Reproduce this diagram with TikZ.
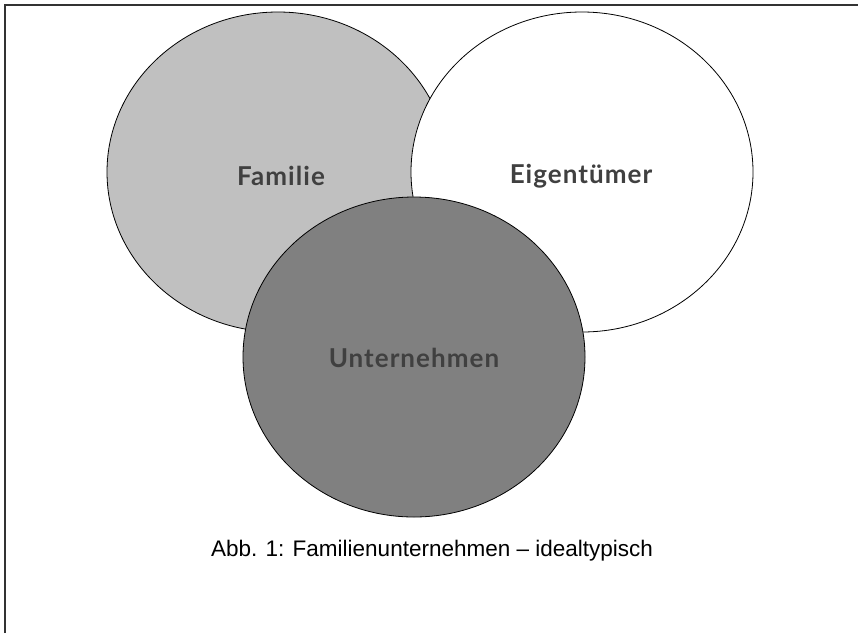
\documentclass[tikz,border=0pt]{standalone}
\usepackage{fontspec}
\setmainfont{Liberation Sans}
\newfontfamily\labelfont[LetterSpace=4]{Lato}
\usetikzlibrary{shapes.geometric}
\definecolor{famgray}{HTML}{C0C0C0}
\definecolor{untgray}{HTML}{808080}
\definecolor{textgray}{HTML}{404040}
\tikzstyle{setnode} = [draw=black, line width=0.8pt, ellipse, minimum width=342pt, minimum height=320pt, inner sep=0pt]
\tikzstyle{setlabel} = [text=textgray, font=\labelfont\bfseries\fontsize{26}{30}\selectfont]
\tikzstyle{framerule} = [draw=black!80, line width=1.4pt]

\begin{document}
\begin{tikzpicture}[x=1pt, y=-1pt]
    \useasboundingbox (0,0) rectangle (858,633);
    \draw[framerule] (5,633) -- (5,5) -- (858,5);

    \node[setnode, fill=famgray] (familie) at (278,172) {};
    \node[setnode, fill=white] (eigentuemer) at (582,172) {};
    \node[setnode, fill=untgray] (unternehmen) at (414,357) {};

    \node[setlabel] (familie_lbl) at (281,176) {Familie};
    \node[setlabel] (eigentuemer_lbl) at (581,176) {Eigentümer};
    \node[setlabel] (unternehmen_lbl) at (414,358) {Unternehmen};

    \node[anchor=base, font=\fontsize{22.5}{26}\selectfont] (caption) at (432,556) {Abb. 1: Familienunternehmen – idealtypisch};
\end{tikzpicture}
\end{document}
